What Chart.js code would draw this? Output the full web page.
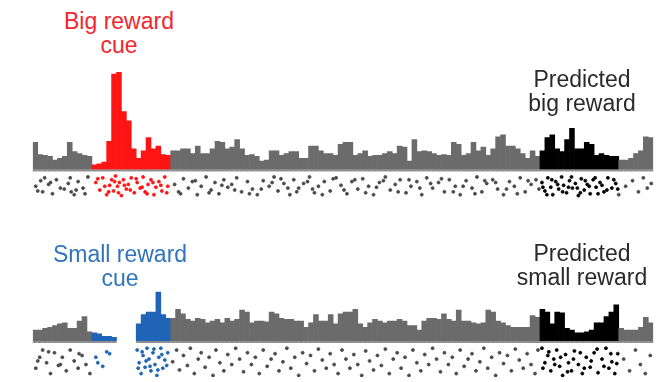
<!DOCTYPE html>
<html>
<head>
<meta charset="utf-8">
<script src="https://cdn.jsdelivr.net/npm/chart.js@4.4.1/dist/chart.umd.min.js"></script>
<style>
  html, body { margin: 0; padding: 0; background: #fff; }
  body { width: 668px; height: 382px; position: relative; overflow: hidden; font-family: "Liberation Sans", Arial, sans-serif; }
  .box { position: absolute; left: 28px; width: 630px; }
  .lbl { position: absolute; width: 220px; text-align: center; font-size: 23px; line-height: 24px; white-space: nowrap; }
</style>
</head>
<body>
<div class="box" style="top:60px;height:146px"><canvas id="big"></canvas></div>
<div class="box" style="top:280px;height:102px"><canvas id="small"></canvas></div>

<div class="lbl" style="left:9px;top:9px;color:#f2262e">Big reward<br>cue</div>
<div class="lbl" style="left:472px;top:67px;color:#2a2a2a">Predicted<br>big reward</div>
<div class="lbl" style="left:10px;top:242px;color:#2f74bd">Small reward<br>cue</div>
<div class="lbl" style="left:472px;top:241px;color:#2a2a2a">Predicted<br>small reward</div>

<script>
// ---------- data ----------
const binWidth = 5;           // time units per histogram bin
const nBins = 126;

// firing rate per bin, big-reward trials
const bigRate = [
  29,16,15,14,10,12,14,29,19,17,15,14,
  5,6,8,30,102,104,62,52,22,12,20,34,22,25,16,15,
  20,20,22,22,17,25,17,17,22,30,29,22,24,32,22,15,16,14,9,10,
  20,20,15,17,19,19,12,12,25,25,20,17,17,15,27,29,29,15,17,20,
  14,15,15,17,19,17,25,24,9,32,19,20,19,17,15,16,15,29,27,15,
  17,29,20,24,15,22,35,37,25,25,22,17,12,20,14,
  20,34,37,22,19,32,44,22,22,29,27,15,17,15,14,14,
  10,10,12,17,20,35,34
];

// firing rate per bin, small-reward trials (null = no data)
const smallRate = [
  12,12,14,15,17,19,20,14,14,22,27,10,
  9,8,5,5,4,null,null,null,null,19,29,32,32,54,29,25,
  25,35,30,24,22,25,24,20,22,24,20,25,22,24,34,32,20,22,22,21,
  32,30,25,24,24,22,22,15,20,29,22,22,29,19,30,32,32,35,19,15,
  20,24,22,20,22,22,24,22,17,17,12,22,25,25,24,30,24,22,34,22,
  22,20,19,20,34,32,22,20,17,15,15,15,15,28,26,
  35,32,19,32,31,14,12,9,9,10,12,20,20,27,32,40,
  14,12,12,12,15,26,20
];

// event windows (time units)
const bigCueWin = [[60, 140]];
const bigRewardWin = [[515, 595]];
const smallCueWin = [[60, 85], [105, 140]];
const smallRewardWin = [[515, 595]];

// raster: spike times and trial rows
const bigSpikeT = [3,5,8,12,16,20,24,32,36,38,39,42,46,51,56,
  64,68,71,75,78,80,82,84,86,88,90,92,95,97,100,103,106,109,112,114,117,120,123,125,128,131,134,137,
  144,148,153,158,162,167,171,176,181,185,189,194,198,202,207,212,218,223,228,234,240,245,249,255,261,265,270,275,281,286,290,296,302,308,313,319,324,330,335,341,346,352,358,363,368,373,379,384,390,395,400,406,412,418,423,429,434,440,446,451,456,461,467,472,478,484,489,495,500,506,511,
  517,520,523,526,528,531,534,537,539,542,545,548,551,554,557,560,563,566,569,572,576,580,584,588,592,595,
  602,609,615,620,624,628,
  150,165,179,192,205,220,232,243,252,259,268,279,284,294,305,316,327,338,349,356,371,382,393,404,415,427,437,449,459,470,481,492,503,514,
  66,73,77,83,87,93,99,105,111,116,122,130,136,
  518,522,527,533,538,544,547,553,556,561,565,571,574,578,583,590,594,
  10,18,28,44,53];
const bigSpikeTrial = [18,23,12,9,16,26,11,21,15,9,24,27,13,20,8,
  14,22,9,27,17,11,23,7,18,14,28,11,21,16,9,25,14,20,8,24,16,11,27,19,13,23,8,18,
  16,24,10,20,13,27,18,8,22,14,26,11,19,16,9,24,13,21,27,12,18,8,23,15,27,11,20,15,8,25,18,13,23,9,17,26,13,21,10,18,27,14,8,22,16,11,25,18,13,27,9,20,14,24,11,18,27,12,20,8,24,15,11,21,27,13,18,9,24,16,11,
  14,23,9,19,27,13,21,8,17,25,12,20,15,28,10,22,16,26,11,19,14,24,9,20,15,27,
  18,12,24,9,20,15,
  26,12,25,17,22,26,21,14,10,20,24,13,21,27,10,22,11,25,19,12,24,11,20,15,10,24,18,26,12,14,21,26,12,21,
  10,18,24,13,25,17,22,10,19,26,14,17,25,
  19,27,11,16,24,19,8,20,25,12,18,9,26,17,22,11,21,
  24,14,20,22,26];

const smallSpikeT = [3,7,10,14,18,22,26,30,34,38,42,46,50,54,58,
  64,71,78,
  106,108,110,112,114,116,118,120,122,124,126,128,130,132,134,137,
  142,146,149,153,157,160,164,168,171,175,179,183,186,190,194,198,202,206,210,214,218,222,226,230,234,238,242,246,250,254,258,262,266,270,274,278,282,286,290,294,298,302,306,310,314,318,322,326,330,334,338,342,346,350,354,358,362,366,370,374,378,382,386,390,394,398,402,406,410,414,418,422,426,430,434,438,442,446,450,454,458,462,466,470,474,478,482,486,490,494,498,502,506,510,513,
  517,520,523,526,529,532,535,538,541,544,547,550,554,558,562,566,570,574,578,582,585,588,591,594,
  600,606,612,617,622,627,
  107,111,115,119,123,127,131,136,
  518,524,530,536,543,549,556,560,567,573,580,587,593,
  5,16,28,47,66,75];
const smallSpikeTrial = [30,18,10,24,36,13,27,18,33,10,22,30,16,26,36,
  18,28,14,
  10,24,36,16,29,8,20,33,13,26,38,18,8,30,21,13,
  23,10,32,16,27,8,36,20,13,29,18,38,10,24,33,15,26,8,20,34,13,26,18,36,10,28,20,14,33,23,8,30,18,38,13,25,16,33,9,21,30,14,26,36,10,20,30,15,26,38,11,22,32,16,27,9,36,20,13,30,18,38,10,24,33,15,26,8,20,34,13,26,18,36,10,28,20,14,33,23,8,30,18,38,13,25,16,33,9,21,30,14,26,36,10,
  8,24,16,33,20,10,28,38,15,24,33,11,26,36,18,29,13,35,20,8,30,23,36,14,
  20,33,10,26,36,16,
  30,12,22,28,9,32,15,27,
  30,12,26,18,34,20,13,30,22,9,28,14,25,
  22,12,26,14,24,12];

// ---------- drawing ----------
const GRAY = '#6b6b6b';
const RASTER_GRAY = '#4a4a4a';

function inWin(t, wins) {
  return wins.some(w => t >= w[0] && t < w[1]);
}

function makeChart(id, rate, spikeT, spikeTrial, cueWin, rewWin, cueColor, yMin, yMax) {
  const bars = rate.map((v, i) => ({ x: i * binWidth + binWidth / 2, y: v }));
  const spikes = spikeT.map((t, i) => ({ x: t, y: spikeTrial[i] }));
  const colorFor = t => inWin(t, cueWin) ? cueColor : (inWin(t, rewWin) ? '#000000' : null);

  const baselinePlugin = {
    id: 'baseline',
    afterDatasetsDraw(chart) {
      const ctx = chart.ctx;
      const xs = chart.scales.x, ys = chart.scales.y;
      const y0 = ys.getPixelForValue(0);
      ctx.save();
      ctx.fillStyle = '#8c8c8c';
      rate.forEach((v, i) => {
        if (v === null) return;
        const a = xs.getPixelForValue(i * binWidth);
        const b = xs.getPixelForValue((i + 1) * binWidth);
        ctx.fillRect(a, y0, b - a, 2);
      });
      ctx.restore();
    }
  };

  const spikeColor = c => colorFor(c.raw ? c.raw.x : 0) || RASTER_GRAY;

  return new Chart(document.getElementById(id), {
    data: {
      datasets: [
        {
          type: 'bar',
          data: bars,
          xAxisID: 'x', yAxisID: 'y',
          backgroundColor: c => colorFor(c.raw ? c.raw.x : 0) || GRAY,
          borderWidth: 0,
          barPercentage: 1.0,
          categoryPercentage: 1.0
        },
        {
          type: 'scatter',
          data: spikes,
          xAxisID: 'x', yAxisID: 'yRaster',
          showLine: false,
          pointStyle: 'circle',
          pointRadius: 1.5,
          pointBorderWidth: 0.8,
          pointBorderColor: spikeColor,
          pointBackgroundColor: spikeColor
        }
      ]
    },
    options: {
      responsive: true,
      maintainAspectRatio: false,
      animation: false,
      layout: { padding: 0 },
      plugins: { legend: { display: false }, tooltip: { enabled: false } },
      scales: {
        x: { type: 'linear', min: 0, max: nBins * binWidth, display: false, offset: false },
        y: { type: 'linear', min: yMin, max: yMax, display: false },
        yRaster: { type: 'linear', axis: 'y', min: -yMax, max: -yMin, reverse: true, display: false }
      }
    },
    plugins: [baselinePlugin]
  });
}

makeChart('big', bigRate, bigSpikeT, bigSpikeTrial, bigCueWin, bigRewardWin, '#ff1414', -34, 112);
makeChart('small', smallRate, smallSpikeT, smallSpikeTrial, smallCueWin, smallRewardWin, '#1f64b6', -40, 62);
</script>
</body>
</html>
